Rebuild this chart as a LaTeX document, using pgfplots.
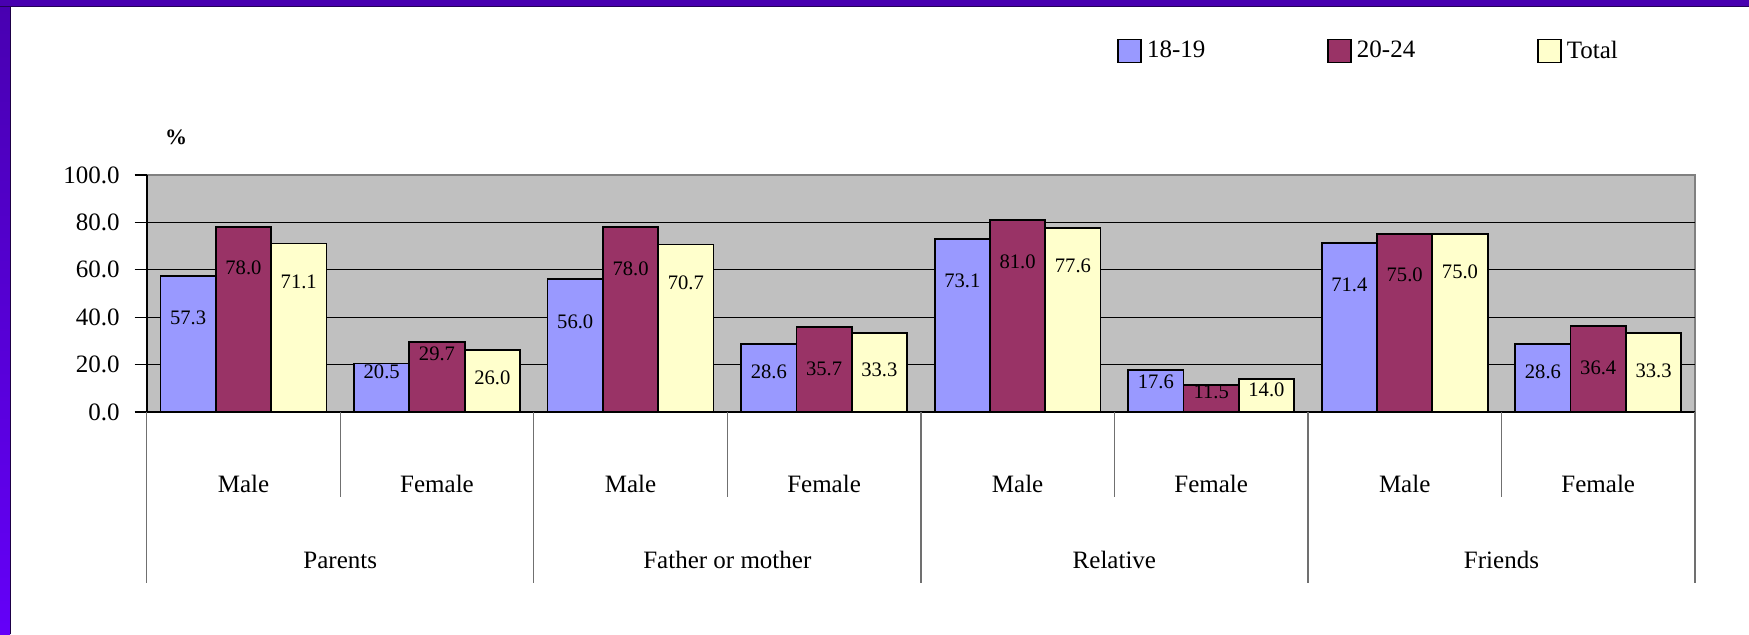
\documentclass[border=0pt]{standalone}
\usepackage{fontspec}
\setmainfont{Liberation Serif}
\usepackage{pgfplots}
\usepackage{pgfplotstable}
\pgfplotsset{compat=1.18}
\definecolor{cA}{HTML}{9999FF}
\definecolor{cB}{HTML}{993366}
\definecolor{cC}{HTML}{FFFFCC}
\definecolor{plotbg}{HTML}{C0C0C0}
\definecolor{bordergray}{HTML}{808080}
\definecolor{sepcol}{HTML}{707070}
\definecolor{purpTop}{HTML}{4800B0}
\definecolor{purpBot}{HTML}{6400F8}
\pgfplotstableread{
x a oa b ob c oc
0 57.3 21 78.0 20.5 71.1 19.3
1 20.5 4 29.7 6 26.0 13.5
2 56.0 21.5 78.0 21 70.7 19
3 28.6 14 35.7 20.5 33.3 18.5
4 73.1 21 81.0 21 77.6 19
5 17.6 6 11.5 3.5 14.0 5.5
6 71.4 21 75.0 20.5 75.0 19
7 28.6 14 36.4 21 33.3 19
}\data
\pgfplotsset{
  mybar/.style={ybar, bar width=27.65pt, draw=black, line width=0.9pt,
    legend image code/.code={\draw[##1, line width=0.8pt] (0pt,-5.75pt) rectangle (11.5pt,5.75pt);},
    nodes near coords={\pgfmathprintnumber[fixed,fixed zerofill,precision=1,assume math mode=true]{\pgfplotspointmeta}},
    nodes near coords style={font=\fontsize{10.3}{12}\selectfont, text=black, anchor=center, yshift=-\off*1pt}},
}
\begin{document}
\begin{tikzpicture}
\fill[white] (0,0) rectangle (874.5pt,317pt);
\begin{axis}[
  scale only axis, width=774.15pt, height=118.5pt,
  at={(73.35pt,111pt)}, anchor=south west,
  xmin=-0.5, xmax=7.5, ymin=0, ymax=100,
  clip=false,
  axis background/.style={fill=plotbg, draw=bordergray, line width=1pt},
  axis lines=left, axis line style={-, black, line width=0.8pt},
  ytick={0,20,40,60,80}, extra y ticks={100}, extra y tick style={grid=none},
  ymajorgrids, major grid style={black, line width=0.5pt},
  /pgf/number format/assume math mode=true,
  yticklabel style={/pgf/number format/.cd, fixed, fixed zerofill, precision=1, assume math mode=true, /tikz/.cd, font=\fontsize{12.5}{14}\selectfont, xshift=-4pt},
  ytick style={black, line width=0.6pt}, tick align=outside, major tick length=6pt,
  xtick={0,...,7}, xticklabels={Male,Female,Male,Female,Male,Female,Male,Female},
  xtick style={draw=none},
  xticklabel style={font=\fontsize{12.5}{14}\selectfont, anchor=center, yshift=-30pt},
  extra x ticks={0.5,2.5,4.5,6.5},
  extra x tick labels={Parents,Father or mother,Relative,Friends},
  extra x tick style={major tick length=0pt, xticklabel style={yshift=-44pt}},
  legend columns=3,
  legend cell align=left,
  legend style={draw=none, fill=none, inner sep=0pt, at={(0.6267,1.523)}, anchor=west,
    font=\fontsize{12.5}{14}\selectfont, nodes={inner sep=2.5pt},
    /tikz/every even column/.append style={column sep=58.5pt}},
]
\addplot[mybar, fill=cA, bar shift=-27.65pt, visualization depends on={\thisrow{oa} \as \off}, every node near coord/.append style={xshift=-27.65pt}] table[x=x, y=a] {\data};
\addplot[mybar, fill=cB, bar shift=0pt, visualization depends on={\thisrow{ob} \as \off}] table[x=x, y=b] {\data};
\addplot[mybar, fill=cC, bar shift=27.65pt, visualization depends on={\thisrow{oc} \as \off}, every node near coord/.append style={xshift=27.65pt}] table[x=x, y=c] {\data};
\legend{18-19,20-24,Total}
\draw[sepcol, line width=0.7pt] (axis cs:0.5,0) -- ++(0pt,-42.5pt);
\draw[sepcol, line width=0.7pt] (axis cs:2.5,0) -- ++(0pt,-42.5pt);
\draw[sepcol, line width=0.7pt] (axis cs:4.5,0) -- ++(0pt,-42.5pt);
\draw[sepcol, line width=0.7pt] (axis cs:6.5,0) -- ++(0pt,-42.5pt);
\draw[sepcol, line width=0.7pt] (axis cs:-0.5,0) -- ++(0pt,-85.5pt);
\draw[sepcol, line width=0.7pt] (axis cs:1.5,0) -- ++(0pt,-85.5pt);
\draw[sepcol, line width=0.7pt] (axis cs:3.5,0) -- ++(0pt,-85.5pt);
\draw[sepcol, line width=0.7pt] (axis cs:5.5,0) -- ++(0pt,-85.5pt);
\draw[sepcol, line width=0.7pt] (axis cs:7.5,0) -- ++(0pt,-85.5pt);
\end{axis}
\node[font=\bfseries\fontsize{11}{13}\selectfont] at (88pt,248.5pt) {\%};
\shade[top color=purpTop, bottom color=purpBot] (0,0) rectangle (5pt,317pt);
\fill[black!60!purpTop] (5pt,0) rectangle (5.7pt,317pt);
\fill[purpTop] (0,314pt) rectangle (874.5pt,317pt);
\fill[black!50!purpTop] (0,313.6pt) rectangle (874.5pt,314pt);
\end{tikzpicture}
\end{document}
